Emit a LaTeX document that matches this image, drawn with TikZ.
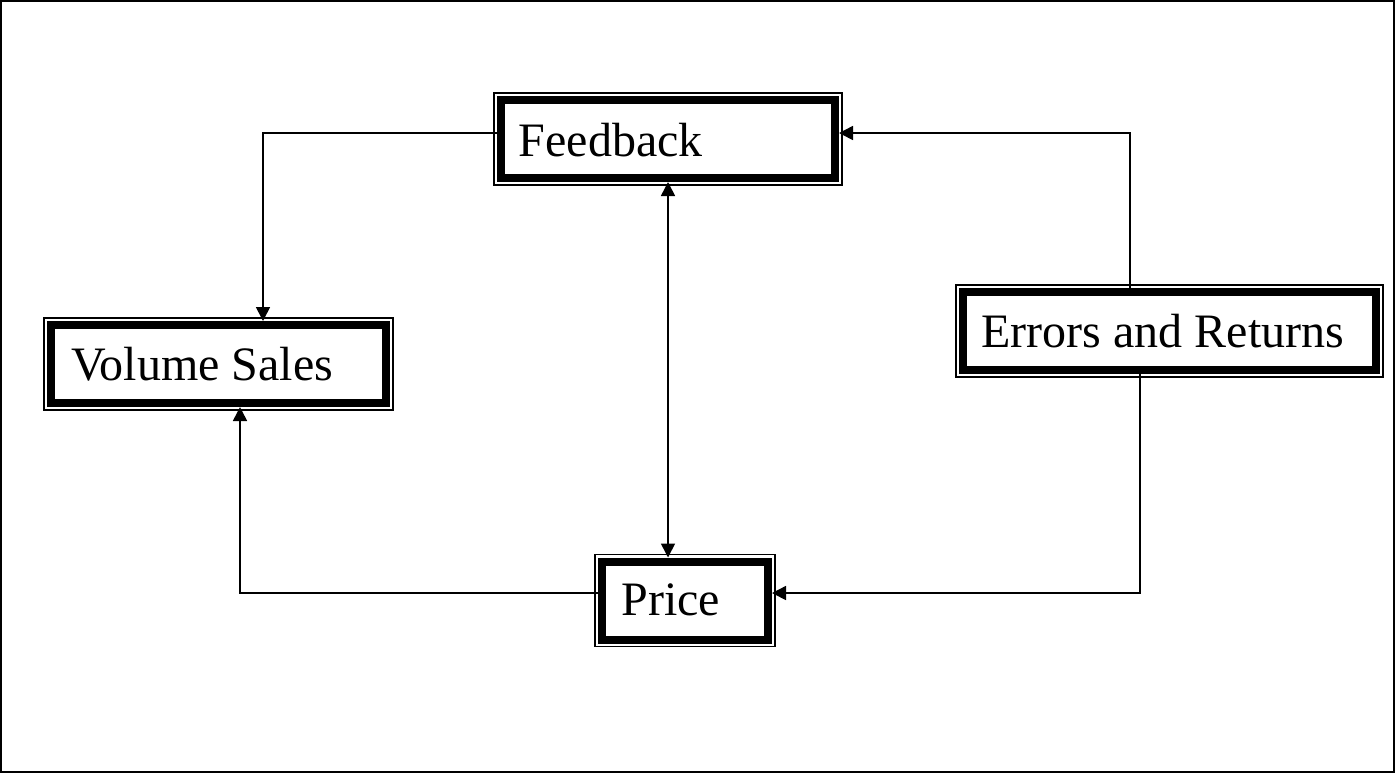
\documentclass[tikz,border=0pt]{standalone}
\usepackage{fontspec}
\setmainfont{Liberation Serif}
\usetikzlibrary{arrows.meta,calc}
\begin{document}
\begin{tikzpicture}[x=0.5pt,y=-0.5pt,
  box/.style={draw=black,line width=4pt,minimum height=39pt,inner sep=0pt,fill=white},
  frame/.style={draw=black,line width=0.6pt},
  lbl/.style={inner sep=0pt,font=\fontsize{24}{28}\selectfont,anchor=base west},
  conn/.style={draw=black,line width=0.8pt},
  tip/.style={-{Triangle[length=7pt,width=7pt]}},
  tips/.style={{Triangle[length=7pt,width=7pt]}-{Triangle[length=7pt,width=7pt]}}
]
\useasboundingbox (0,0) rectangle (1395,773);
\draw[line width=1pt] (1,1) rectangle (1394,772);

\node[box,minimum width=167pt] (fb) at (668,139) {};
\node[box,minimum width=167.5pt] (vs) at (218.5,364) {};
\node[box,minimum width=83pt] (pr) at (685,600.5) {};
\node[box,minimum width=206.5pt] (er) at (1169.5,331) {};

\foreach \n in {fb,vs,pr,er}{
  \draw[frame] ($(\n.north west)+(-3,-3)$) rectangle ($(\n.south east)+(3,3)$);
}

\node[lbl] (fbt) at ([xshift=10.75pt,yshift=-8.75pt]fb.west) {Feedback};
\node[lbl] (vst) at ([xshift=12pt,yshift=-8pt]vs.west) {Volume Sales};
\node[lbl] (prt) at ([xshift=11.5pt,yshift=-7.5pt]pr.west) {Price};
\node[lbl] (ert) at ([xshift=11pt,yshift=-8pt]er.west) {Errors and Returns};

\draw[conn,tip] ([yshift=3pt]fb.west) -| ([xshift=22.25pt]vs.north);
\draw[conn,tip] ([xshift=-19.75pt]er.north) |- ([yshift=3pt]fb.east);
\draw[conn,tip] ([xshift=-14.75pt]er.south) |- ([yshift=3.75pt]pr.east);
\draw[conn,tip] ([yshift=3.75pt]pr.west) -| ([xshift=10.75pt]vs.south);
\draw[conn,tips] (fb.south) -- (fb.south |- pr.north);
\end{tikzpicture}
\end{document}
